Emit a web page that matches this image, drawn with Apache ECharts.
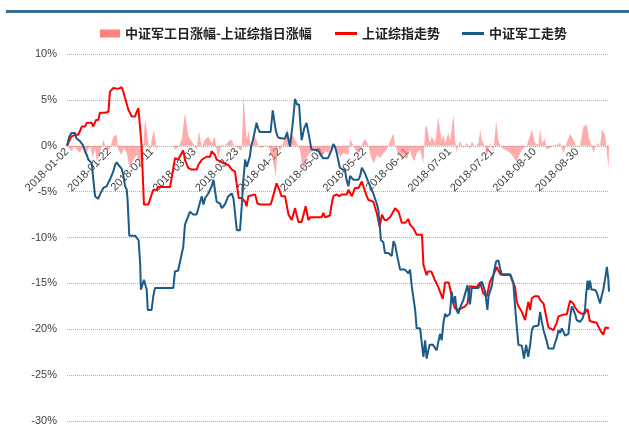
<!DOCTYPE html>
<html>
<head>
<meta charset="utf-8">
<script src="https://cdn.jsdelivr.net/npm/echarts@6/dist/echarts.min.js"></script>
<style>
html,body{margin:0;padding:0;background:#fff;}
#chart{width:629px;height:435px;}
</style>
</head>
<body>
<div id="chart"></div>
<script>
// x values are calendar-day offsets from 2018-01-02
var tickLabels = ['2018-01-02','2018-01-22','2018-02-11','2018-03-03','2018-03-23','2018-04-12','2018-05-02','2018-05-22','2018-06-11','2018-07-01','2018-07-21','2018-08-10','2018-08-30'];
var yTicks = [-30,-25,-20,-15,-10,-5,0,5,10];
var seriesNames = ['中证军工日涨幅-上证综指日涨幅','上证综指走势','中证军工走势'];

// 上证综指走势 (%)
var shTrend = [[0,0],[2,1.0],[4,1.2],[5.3,1.2],[7,2.1],[8.5,2.1],[9.3,2.5],[11.6,2.5],[12.4,2.1],[13.6,2.8],[14.7,2.8],[15.5,3.6],[17.9,3.6],[19.5,3.7],[20.2,5.9],[21.8,6.3],[22.6,6.2],[24.2,6.2],[24.6,6.4],[25.7,6.4],[26.5,5.9],[27.3,5.2],[28.1,5.2],[28.9,3.9],[29.6,3.6],[30.4,3.2],[32,3.2],[32.8,3.7],[33.6,4.1],[35.1,0],[36.2,-6.4],[38.3,-6.4],[39,-5.9],[40.6,-4.8],[42.2,-4.8],[43,-4.5],[48.5,-4.5],[50.8,-1.35],[52.3,-1.5],[54.7,-0.5],[55.5,-1.5],[57,-2.4],[58.6,-2.6],[61,-2.6],[61.8,-2.1],[63.5,-1.5],[64.2,-1.7],[65.7,-1.2],[67.3,-1.2],[68,-0.6],[69.6,-1.0],[70.4,-1.5],[71.2,-1.7],[72,-1.7],[73.6,-1.9],[76,-2.1],[77.5,-2.6],[79,-2.8],[80.8,-5.7],[82.2,-5.7],[83.8,-6.1],[84.5,-6.6],[85.3,-5.5],[86.1,-5.3],[88.5,-5.3],[89.6,-6.3],[91,-6.4],[95.8,-6.4],[96.5,-5.9],[98.6,-4.1],[99.9,-4.8],[100.9,-5.5],[102.6,-5.5],[104.2,-7.5],[105.7,-8.1],[107.3,-6.8],[108,-7.5],[108.9,-8.3],[110.4,-8.3],[111.2,-8.1],[112.3,-6.6],[113.6,-8.1],[114.4,-7.8],[119.8,-7.8],[120.6,-7.3],[121.4,-7.8],[123.7,-7.6],[124.5,-6.4],[125.3,-5.5],[126.9,-5.3],[128.1,-5.5],[129.2,-5.3],[131.6,-5.3],[132.4,-4.8],[134,-5.5],[135.5,-4.6],[137.1,-4.6],[138.7,-3.9],[139.5,-4.1],[140.7,-5.3],[141.8,-5.9],[144.1,-6.1],[145.7,-7.3],[146.3,-7.9],[147.1,-8.8],[148.2,-7.5],[149.4,-8.1],[150.4,-8.1],[152,-7.8],[154.4,-6.8],[156,-7.2],[157.5,-8.4],[159,-8.4],[160.6,-8.0],[161.4,-8.6],[163,-9.0],[164.5,-9.7],[167,-9.7],[167.7,-13.0],[168.5,-13.2],[169.2,-14.1],[169.8,-13.7],[171.4,-13.7],[173,-14.6],[174.5,-15.3],[176.8,-16.7],[177.9,-14.9],[179.6,-14.9],[180.4,-15.7],[181.5,-17.0],[182.5,-17.7],[184.1,-17.9],[185.7,-17.7],[187.3,-17.5],[188.4,-17.2],[189.6,-15.3],[192.8,-15.4],[194.3,-14.9],[195.9,-16.1],[197.5,-16.4],[199,-14.8],[200.6,-14.1],[202.2,-13.2],[203.8,-14.0],[205.3,-14.1],[208.5,-14.1],[210.8,-15.4],[211.6,-17.0],[212.4,-17.5],[214,-18.1],[215.5,-19.0],[216.3,-17.9],[217.1,-17.0],[217.9,-17.9],[218.7,-16.6],[220.2,-16.4],[221.8,-16.4],[222.6,-16.8],[224.2,-17.2],[225,-18.1],[226.5,-19.8],[228.9,-20.1],[230.4,-19.3],[231.2,-18.6],[232,-18.8],[233.6,-18.4],[235.1,-18.4],[236.7,-16.9],[238.2,-17.2],[239,-17.6],[240.6,-18.1],[242,-18.3],[243.5,-18.3],[244.9,-17.8],[246,-19.1],[247.6,-19.2],[249.2,-19.3],[250.8,-20.1],[252.3,-20.6],[253.3,-19.8],[255,-19.9]];

// 中证军工走势 (%)
var jgTrend = [[0,0],[1.1,1.0],[2.2,1.4],[3,1.2],[3.8,1.4],[4.5,0.8],[5.3,0.8],[6.1,0.5],[7.4,0.1],[8.5,-0.6],[9.3,-1.0],[10,-1.5],[10.8,-1.6],[11.6,-1.9],[12.4,-3.7],[13.2,-5.5],[14,-5.6],[14.7,-5.8],[15.5,-5.3],[16.3,-5.5],[17.1,-4.6],[18.7,-4.4],[19.5,-4.0],[20.2,-3.7],[21,-3.5],[21.8,-2.8],[22.6,-2.1],[23.4,-1.8],[24.2,-2.1],[25,-2.3],[25.7,-2.5],[26.5,-3.2],[27.3,-4.4],[28.1,-4.8],[28.5,-5.9],[29.3,-9.8],[32,-9.8],[32.8,-10.0],[33.7,-10.3],[34.4,-12.8],[34.8,-15.7],[35.6,-15.9],[36.2,-14.6],[36.9,-14.6],[37.5,-15.7],[38,-17.9],[39.8,-17.9],[40.6,-16.4],[41.4,-15.5],[50,-15.5],[50.8,-13.7],[52.3,-13.6],[53.2,-13.6],[54.7,-11.0],[55.5,-8.6],[57,-7.7],[57.8,-7.2],[59.4,-7.5],[61,-7.5],[61.8,-6.8],[62.6,-6.6],[63.4,-5.5],[64.2,-6.4],[65,-5.7],[66.5,-5.2],[67.3,-4.8],[68.1,-4.4],[68.9,-3.7],[69.6,-4.8],[70.4,-6.1],[72,-6.3],[72.8,-6.8],[74.3,-6.4],[75.9,-5.5],[77.5,-5.2],[78.3,-5.7],[79,-7.2],[79.9,-9.2],[81.4,-9.2],[82.2,-6.6],[83,-3.7],[83.8,-1.5],[84.6,-2.3],[85.3,-2.5],[86,-1.2],[86.7,0],[87.5,0.65],[89.2,2.5],[89.9,1.9],[90.7,1.5],[95.8,1.5],[96.8,3.85],[97.5,2.8],[98.3,1.6],[99.3,0.9],[101.2,0.8],[102.6,0.8],[103.5,1.45],[104.9,-0.1],[106.2,2.4],[107.3,5.1],[108.2,4.5],[109.2,4.5],[109.8,2.3],[110.4,0.6],[111.6,1.9],[112.7,2.5],[113.6,1.4],[115,-0.4],[118.1,-0.5],[120.4,-1.35],[122.8,-1.35],[124.6,-0.4],[125.3,0.2],[126.1,-0.1],[126.9,-0.8],[128.4,-2.4],[129.2,-2.6],[130.8,-2.7],[131.6,-3.8],[132.4,-4.4],[133.2,-3.3],[134.7,-3.7],[137.1,-3.7],[137.9,-3.3],[138.7,-2.4],[140.2,-3.0],[141.3,-3.7],[142.6,-4.4],[144.1,-5.2],[145.7,-6.3],[146.5,-7.0],[147.7,-10.3],[148.8,-10.5],[149.6,-11.7],[151.2,-11.7],[152,-11.9],[152.8,-12.0],[153.6,-10.4],[154.4,-10.8],[155.1,-11.7],[156.7,-13.5],[159,-13.5],[160.6,-13.9],[161.4,-13.5],[162.2,-15.3],[163.8,-17.9],[164.5,-19.9],[166.1,-19.9],[166.9,-19.7],[167.7,-23.0],[168.5,-21.2],[169.2,-23.2],[170,-22.3],[170.6,-21.7],[172.2,-21.7],[173.9,-22.3],[175.5,-20.5],[176.3,-21.2],[177.1,-19.3],[177.9,-18.3],[178.6,-18.6],[180.2,-18.3],[181,-15.9],[181.8,-17.2],[182.6,-16.4],[183.3,-17.9],[184.1,-18.3],[184.9,-17.7],[185.7,-17.5],[186.5,-16.8],[187.3,-16.6],[188.4,-15.2],[188.8,-15.9],[189.6,-17.3],[190.4,-15.5],[193.5,-15.5],[195.1,-14.8],[195.9,-15.3],[196.7,-15.9],[197.8,-17.9],[198.3,-16.4],[199,-15.9],[199.8,-15.3],[200.9,-13.7],[201.9,-12.6],[203,-12.5],[203.8,-13.4],[204.5,-14.0],[208.5,-14.0],[209.2,-14.4],[210,-15.0],[210.8,-17.5],[211.6,-19.7],[212.4,-21.7],[214,-21.8],[215,-23.2],[216,-21.7],[217,-23.0],[217.9,-21.7],[218.7,-20.1],[219.5,-19.7],[221.8,-19.6],[222.6,-18.1],[223.4,-19.2],[224.2,-20.1],[225.7,-21.3],[226.5,-22.1],[228.9,-22.1],[229.6,-21.5],[230.4,-21.0],[231.2,-20.1],[232,-20.4],[232.8,-19.9],[233.6,-20.3],[234.4,-20.7],[235.9,-20.5],[236.7,-18.7],[237.5,-17.5],[238.3,-17.9],[239.1,-18.4],[239.8,-19.0],[241.4,-19.2],[242.6,-18.8],[243.7,-17.9],[244.2,-16.3],[244.9,-14.7],[245.4,-15.7],[246,-14.7],[246.8,-15.7],[248.4,-15.7],[249.2,-16.0],[250.8,-17.2],[251.5,-16.4],[252.3,-15.7],[253.1,-14.6],[254,-13.2],[254.7,-14.6],[255,-15.9]];

// 中证军工日涨幅-上证综指日涨幅 (%)
var diffDaily = [[0,0],[2.2,-0.6],[3.4,-0.1],[4.6,-0.4],[6.1,-0.8],[7.3,-0.2],[8.5,-1.0],[10,-0.4],[11,-0.1],[12.2,-1.3],[13.2,-0.3],[14,-1.7],[15.5,-0.8],[17.1,0.65],[18.7,-0.6],[20.2,-0.3],[21.8,1.0],[23.4,1.2],[24.1,-0.4],[25.7,-1.0],[26.8,-0.2],[28.1,-0.8],[29.6,-2.6],[31.2,-1.5],[32.8,-1.0],[34.4,-1.9],[35.1,-2.6],[35.9,0],[36.7,3.0],[37.6,1.5],[39,-0.9],[39.9,0.8],[40.9,1.75],[42.2,-0.4],[42.8,0],[50,0],[50.8,-0.4],[52.4,-0.1],[54,0.65],[55.5,3.6],[57.1,1.0],[58.7,0.5],[61,-0.4],[62.1,1.6],[63.4,-0.25],[64.9,0.65],[66.5,1.0],[68.1,0.3],[69.6,1.0],[70.4,-0.4],[71.2,-1.35],[72,-0.4],[72.8,0.1],[74.3,0],[75.9,0.5],[76.7,0.3],[77.5,0.65],[78.3,0.1],[79,0],[80.6,-0.25],[82.2,-0.6],[83,5.5],[83.8,2.8],[84.6,0.6],[85.5,1.75],[86.3,0.1],[87.1,0.5],[87.9,1.2],[89.4,0.5],[90.2,-0.1],[91.8,-0.25],[93.3,0.1],[94.9,-0.1],[96.5,-1.2],[98.3,-3.4],[99,0],[100.2,-0.6],[101.5,0.2],[102.6,1.0],[103.7,1.9],[104.6,0.8],[105.7,1.4],[107.3,0.65],[109.6,-0.4],[111.2,-2.8],[112.8,-1.2],[114.4,-0.8],[115.9,-0.4],[117.5,-0.6],[119.9,-1.2],[121.4,-0.6],[123,-0.8],[124.6,-0.25],[126.1,-0.25],[128.5,-1.2],[130,-0.8],[132.4,-1.0],[133.2,0.8],[134,0.65],[135.5,-0.4],[137.1,-0.8],[138.7,0.1],[140.2,0.8],[141.8,0.1],[142.9,-1.2],[144.5,-1.9],[145.7,-1.0],[147.3,-1.35],[148.8,-0.8],[150.4,-0.4],[151.2,-0.6],[153.6,1.4],[154.4,0],[155.1,-0.4],[156.7,-1.2],[158.3,-1.0],[159.9,-1.5],[161.4,-0.4],[162.2,-1.2],[163.3,-1.7],[164.6,-0.8],[166.1,-0.4],[167.7,-1.9],[168.5,1.9],[169.2,2.2],[170,1.2],[170.8,0.3],[171.6,1.0],[173.2,0.3],[174.7,3.2],[175.5,1.7],[176.3,0.6],[177.1,1.2],[177.9,0.3],[179.4,1.4],[180.2,0.5],[181.8,3.4],[182.6,0.6],[183.4,-0.8],[184.1,0],[184.9,0.5],[186.5,-0.25],[188.1,0.3],[189.6,-0.4],[190.4,0.5],[192,-0.1],[193.6,0.3],[194.4,1.75],[195.1,0.65],[196.7,-0.1],[197.5,-1.2],[198.3,-0.4],[199.1,0.3],[200.6,-0.6],[201.9,2.7],[203,0.5],[204.6,-0.25],[206.1,-0.4],[206.9,-0.6],[208.5,-0.8],[210,-1.2],[211.6,-1.8],[213.2,-0.8],[214.7,-0.25],[216.3,0],[218.7,1.75],[220.2,0.3],[221.8,0.1],[222.6,1.9],[223.4,0.3],[224.9,0.8],[225.7,-0.4],[227.3,-0.25],[228.9,0.1],[230.4,0.1],[232,0.3],[233.6,-0.8],[235.1,0.3],[236.7,1.3],[238.3,0.65],[239.8,-0.1],[241.4,0.1],[243,2.1],[244.6,2.3],[245.4,1.0],[246.1,1.2],[246.9,-0.1],[247.7,-0.8],[248.5,-0.1],[250,0.3],[250.8,-0.1],[251.6,1.75],[253.2,1.2],[254,1.0],[254.8,-2.6],[255,-2.6]];

var chart = echarts.init(document.getElementById('chart'), null, {renderer:'canvas'});
var legendText = {fontSize:13, color:'#222', fontFamily:'Noto Sans CJK SC', fontWeight:'bold'};
var option = {
  backgroundColor:'#fff',
  animation:false,
  graphic:[{type:'rect', shape:{x:6, y:10, width:623, height:3}, style:{fill:'#3d6a98'}}],
  legend:[
    {top:22, left:95, itemWidth:20, itemHeight:8, textStyle:legendText,
     data:[{name:seriesNames[0], icon:'rect'}]},
    {top:22, left:330, itemGap:22, itemWidth:22, itemHeight:3, textStyle:legendText,
     data:[{name:seriesNames[1], icon:'rect'}, {name:seriesNames[2], icon:'rect'}]}
  ],
  grid:{left:67, right:20, top:54, bottom:14, containLabel:false, outerBoundsMode:'none'},
  xAxis:{
    type:'value', min:0, max:255, interval:20,
    offset:-275,
    axisLine:{show:false, onZero:false},
    axisTick:{show:false},
    splitLine:{show:false},
    axisLabel:{
      rotate:45, margin:4, fontSize:11, color:'#404040', fontFamily:'Liberation Sans',
      showMaxLabel:false,
      formatter:function(v){ return (v % 20 === 0 && tickLabels[v/20]) ? tickLabels[v/20] : ''; }
    }
  },
  yAxis:{
    type:'value', min:yTicks[0], max:yTicks[yTicks.length-1], interval:5,
    axisLine:{show:false, onZero:false}, axisTick:{show:false},
    splitLine:{show:true, lineStyle:{color:'#b0b0b0', type:'dotted', width:1}},
    axisLabel:{formatter:'{value}%', fontSize:11, color:'#404040', margin:10, fontFamily:'Liberation Sans'}
  },
  series:[
    {name:seriesNames[0], type:'line', data:diffDaily, symbol:'none', itemStyle:{color:'#ff8080'},
     lineStyle:{width:0}, areaStyle:{color:'rgba(255,115,115,0.85)', origin:0}, z:1},
    {name:seriesNames[1], type:'line', data:shTrend, symbol:'none', itemStyle:{color:'#ff0000'},
     lineStyle:{width:2, color:'#ff0000'}, z:2},
    {name:seriesNames[2], type:'line', data:jgTrend, symbol:'none', itemStyle:{color:'#1c5a88'},
     lineStyle:{width:2, color:'#1c5a88'}, z:3}
  ]
};
chart.setOption(option);
</script>
</body>
</html>
